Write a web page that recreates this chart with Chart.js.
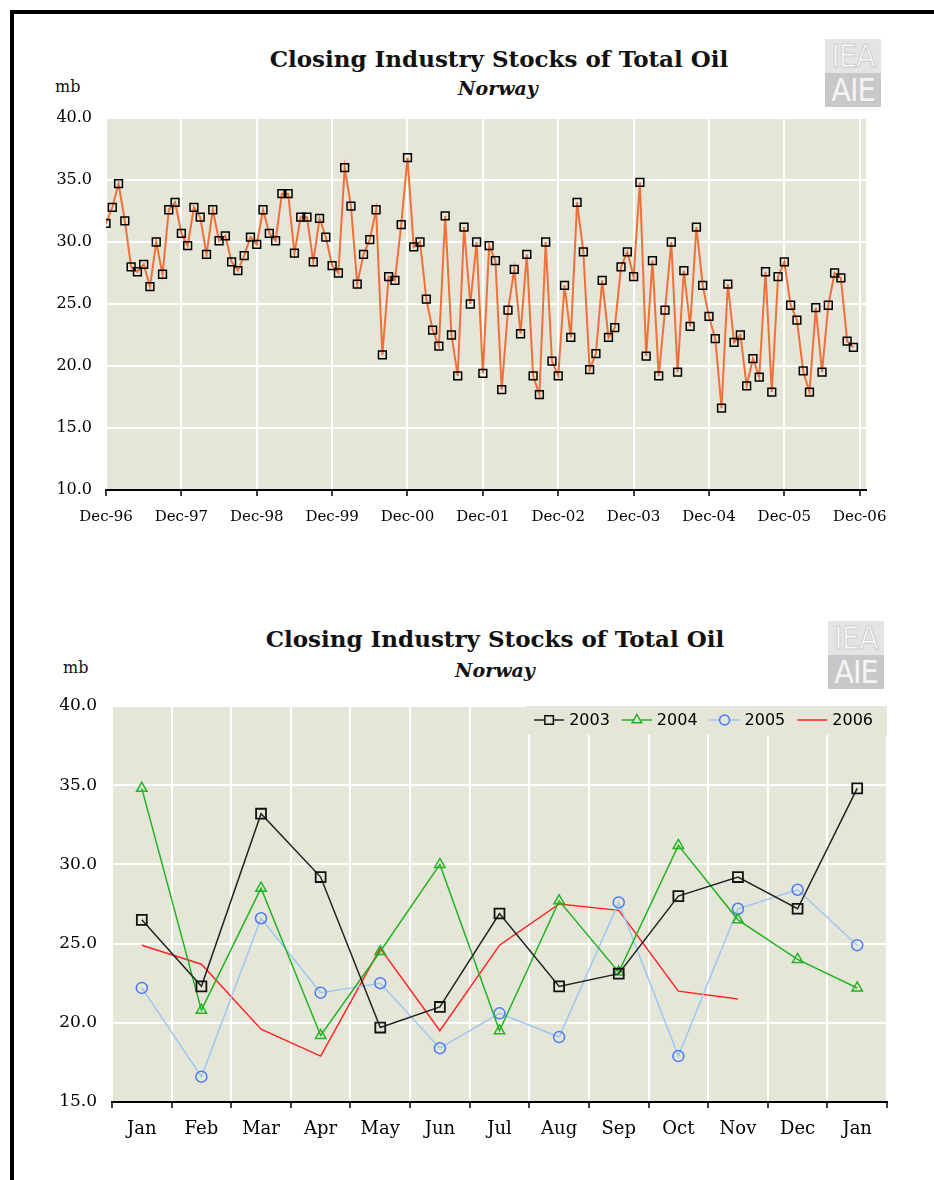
<!DOCTYPE html>
<html>
<head>
<meta charset="utf-8">
<script src="https://cdn.jsdelivr.net/npm/chart.js@4.4.1/dist/chart.umd.min.js"></script>
<style>
html,body{margin:0;padding:0;background:#fff;}
body{width:934px;height:1180px;position:relative;overflow:hidden;}
#frameTop{position:absolute;left:10px;top:10px;width:924px;height:4px;background:#000;}
#frameLeft{position:absolute;left:10px;top:10px;width:4px;height:1170px;background:#000;}
.txt{position:absolute;transform:translate(-50%,-50%);white-space:nowrap;font-family:'DejaVu Serif',serif;color:#111;line-height:1;}
.title{font-weight:bold;font-size:23px;}
.sub{font-weight:bold;font-style:italic;font-size:19px;}
.unit{font-size:16px;transform:translate(0,-50%);}
canvas{position:absolute;}
.logo{position:absolute;width:56px;height:68px;font-family:'Liberation Sans Narrow','DejaVu Sans Condensed',sans-serif;}
.logo div{height:34px;line-height:34px;text-align:center;font-size:32px;font-weight:300;letter-spacing:-1px;overflow:hidden;}
.logo .a{background:#e4e4e4;color:#fafafa;-webkit-text-stroke:1px #cfcfcf;}
.logo .b{background:#c8c8c8;color:#f4f4f4;}
</style>
</head>
<body>
<div id="frameTop"></div>
<div id="frameLeft"></div>

<div class="txt title" style="left:499px;top:58px;">Closing Industry Stocks of Total Oil</div>
<div class="txt sub" style="left:498px;top:88px;">Norway</div>
<div class="txt unit" style="left:55px;top:87px;">mb</div>
<div class="logo" style="left:825px;top:39px;"><div class="a">IEA</div><div class="b">AIE</div></div>
<canvas id="c1" width="906" height="440" style="left:14px;top:100px;"></canvas>

<div class="txt title" style="left:495px;top:638px;">Closing Industry Stocks of Total Oil</div>
<div class="txt sub" style="left:495px;top:670px;">Norway</div>
<div class="txt unit" style="left:63px;top:668px;">mb</div>
<div class="logo" style="left:828px;top:621px;"><div class="a">IEA</div><div class="b">AIE</div></div>
<canvas id="c2" width="906" height="470" style="left:14px;top:690px;"></canvas>

<script>
// ---------- DATA ----------
// Monthly closing stocks, Dec-96 .. Nov-06 (mb)
const monthlyStocks = [
  31.5, 32.8, 34.7, 31.7, 28.0, 27.6, 28.2, 26.4, 30.0, 27.4, 32.6, 33.2,
  30.7, 29.7, 32.8, 32.0, 29.0, 32.6, 30.1, 30.5, 28.4, 27.7, 28.9, 30.4,
  29.8, 32.6, 30.7, 30.1, 33.9, 33.9, 29.1, 32.0, 32.0, 28.4, 31.9, 30.4,
  28.1, 27.5, 36.0, 32.9, 26.6, 29.0, 30.2, 32.6, 20.9, 27.2, 26.9, 31.4,
  36.8, 29.6, 30.0, 25.4, 22.9, 21.6, 32.1, 22.5, 19.2, 31.2, 25.0, 30.0,
  19.4, 29.7, 28.5, 18.1, 24.5, 27.8, 22.6, 29.0, 19.2, 17.7, 30.0, 20.4,
  19.2, 26.5, 22.3, 33.2, 29.2, 19.7, 21.0, 26.9, 22.3, 23.1, 28.0, 29.2,
  27.2, 34.8, 20.8, 28.5, 19.2, 24.5, 30.0, 19.5, 27.7, 23.2, 31.2, 26.5,
  24.0, 22.2, 16.6, 26.6, 21.9, 22.5, 18.4, 20.6, 19.1, 27.6, 17.9, 27.2,
  28.4, 24.9, 23.7, 19.6, 17.9, 24.7, 19.5, 24.9, 27.5, 27.1, 22.0, 21.5
];
const topTickPositions = [0, 12, 24, 36, 48, 60, 72, 84, 96, 108, 120];
const topTickLabels = ['Dec-96','Dec-97','Dec-98','Dec-99','Dec-00','Dec-01','Dec-02','Dec-03','Dec-04','Dec-05','Dec-06'];

const monthLabels = ['Jan','Feb','Mar','Apr','May','Jun','Jul','Aug','Sep','Oct','Nov','Dec','Jan'];
const s2003 = [26.5, 22.3, 33.2, 29.2, 19.7, 21.0, 26.9, 22.3, 23.1, 28.0, 29.2, 27.2, 34.8];
const s2004 = [34.8, 20.8, 28.5, 19.2, 24.5, 30.0, 19.5, 27.7, 23.2, 31.2, 26.5, 24.0, 22.2];
const s2005 = [22.2, 16.6, 26.6, 21.9, 22.5, 18.4, 20.6, 19.1, 27.6, 17.9, 27.2, 28.4, 24.9];
const s2006 = [24.9, 23.7, 19.6, 17.9, 24.7, 19.5, 24.9, 27.5, 27.1, 22.0, 21.5];
const seriesNames = ['2003','2004','2005','2006'];

// ---------- STYLE ----------
const PLOT_BG = '#e6e6d8';
Chart.defaults.font.family = "'DejaVu Serif', serif";
Chart.defaults.color = '#000';

const plotBg = {
  id: 'plotBg',
  beforeDraw(chart) {
    const a = chart.chartArea, ctx = chart.ctx;
    ctx.save(); ctx.fillStyle = PLOT_BG;
    ctx.fillRect(a.left, a.top, a.right - a.left, a.bottom - a.top);
    ctx.restore();
  }
};

// ---------- TOP CHART ----------
new Chart(document.getElementById('c1'), {
  type: 'line',
  data: {
    datasets: [{
      data: monthlyStocks.map((v, i) => ({x: i, y: v})),
      borderColor: '#f0703a',
      borderWidth: 2,
      tension: 0,
      pointStyle: 'rect',
      pointRadius: 5.5,
      pointBorderColor: '#000',
      pointBorderWidth: 1.5,
      pointBackgroundColor: 'rgba(0,0,0,0)'
    }]
  },
  options: {
    responsive: false, animation: false, devicePixelRatio: 1,
    layout: {padding: {left: 0, right: 54, top: 18, bottom: 0}},
    plugins: {legend: {display: false}, tooltip: {enabled: false}, title: {display: false}},
    scales: {
      x: {
        type: 'linear', min: 0, max: 121,
        afterBuildTicks: s => { s.ticks = topTickPositions.map(v => ({value: v})); },
        afterFit: s => { s.height = 50; },
        grid: {color: '#ffffff', lineWidth: 2, tickColor: '#000', tickLength: 6, tickWidth: 1.5},
        border: {display: true, color: '#000', width: 2},
        ticks: {autoSkip: false, maxRotation: 0, padding: 12, font: {size: 15},
                callback: (v, i) => topTickLabels[i]}
      },
      y: {
        min: 10, max: 40,
        afterFit: s => { s.width = 92; s.paddingTop = 0; s.paddingBottom = 0; },
        grid: {color: '#ffffff', lineWidth: 2, drawTicks: false},
        border: {display: false},
        ticks: {stepSize: 5, padding: 14, font: {size: 16}, callback: v => v.toFixed(1)}
      }
    }
  },
  plugins: [plotBg]
});

// ---------- BOTTOM CHART ----------
const legendInside = {
  id: 'legendInside',
  afterDraw(chart) {
    const ctx = chart.ctx, a = chart.chartArea;
    ctx.save();
    ctx.font = "16px 'DejaVu Sans', sans-serif";
    const lineLen = 30, gap = 5, spacing = 12;
    const items = chart.data.datasets.map(ds => ({ds, w: ctx.measureText(ds.label).width}));
    let total = 0;
    items.forEach((it, i) => { total += lineLen + gap + it.w + (i ? spacing : 0); });
    const right = a.right - 14;
    let x = right - total;
    const y = a.top + 14;
    ctx.fillStyle = PLOT_BG;
    ctx.fillRect(x - 8, a.top, a.right - (x - 8), 29);
    items.forEach(it => {
      const ds = it.ds;
      ctx.strokeStyle = ds.borderColor; ctx.lineWidth = 1.5;
      ctx.beginPath(); ctx.moveTo(x, y); ctx.lineTo(x + lineLen, y); ctx.stroke();
      if (ds.pointRadius > 0) {
        ctx.strokeStyle = ds.pointBorderColor; ctx.fillStyle = PLOT_BG; ctx.lineWidth = 1.5;
        Chart.helpers.drawPoint(ctx, {pointStyle: ds.pointStyle, radius: ds.legendRadius, rotation: 0, borderWidth: 1.5}, x + lineLen / 2, y);
      }
      ctx.fillStyle = '#000'; ctx.textBaseline = 'middle'; ctx.textAlign = 'left';
      ctx.fillText(ds.label, x + lineLen + gap, y + 1);
      x += lineLen + gap + it.w + spacing;
    });
    ctx.restore();
  }
};

new Chart(document.getElementById('c2'), {
  type: 'line',
  data: {
    labels: monthLabels,
    datasets: [
      {label: seriesNames[0], data: s2003, borderColor: '#222222', borderWidth: 1.5, tension: 0,
       pointStyle: 'rect', pointRadius: 7, legendRadius: 6, pointBorderColor: '#111', pointBorderWidth: 1.8, pointBackgroundColor: 'rgba(0,0,0,0)'},
      {label: seriesNames[1], data: s2004, borderColor: '#22b322', borderWidth: 1.5, tension: 0,
       pointStyle: 'triangle', pointRadius: 6, legendRadius: 5.5, pointBorderColor: '#22b322', pointBorderWidth: 1.5, pointBackgroundColor: 'rgba(0,0,0,0)'},
      {label: seriesNames[2], data: s2005, borderColor: '#9cc8f4', borderWidth: 1.5, tension: 0,
       pointStyle: 'circle', pointRadius: 5.5, legendRadius: 5, pointBorderColor: '#4a7cf5', pointBorderWidth: 1.5, pointBackgroundColor: 'rgba(0,0,0,0)'},
      {label: seriesNames[3], data: s2006, borderColor: '#ff2424', borderWidth: 1.5, tension: 0,
       pointRadius: 0, legendRadius: 0}
    ]
  },
  options: {
    responsive: false, animation: false, devicePixelRatio: 1,
    layout: {padding: {left: 0, right: 33, top: 16, bottom: 0}},
    plugins: {legend: {display: false}, tooltip: {enabled: false}, title: {display: false}},
    scales: {
      x: {
        type: 'category', offset: true,
        afterFit: s => { s.height = 58; },
        grid: {offset: true, color: '#ffffff', lineWidth: 2, tickColor: '#000', tickLength: 6, tickWidth: 1.5},
        border: {display: true, color: '#000', width: 2},
        ticks: {autoSkip: false, maxRotation: 0, padding: 11, font: {size: 18}}
      },
      y: {
        min: 15, max: 40,
        afterFit: s => { s.width = 98; s.paddingTop = 0; s.paddingBottom = 0; },
        grid: {color: '#ffffff', lineWidth: 2, drawTicks: false},
        border: {display: false},
        ticks: {stepSize: 5, padding: 15, font: {size: 17}, callback: v => v.toFixed(1)}
      }
    }
  },
  plugins: [plotBg, legendInside]
});
</script>
</body>
</html>
